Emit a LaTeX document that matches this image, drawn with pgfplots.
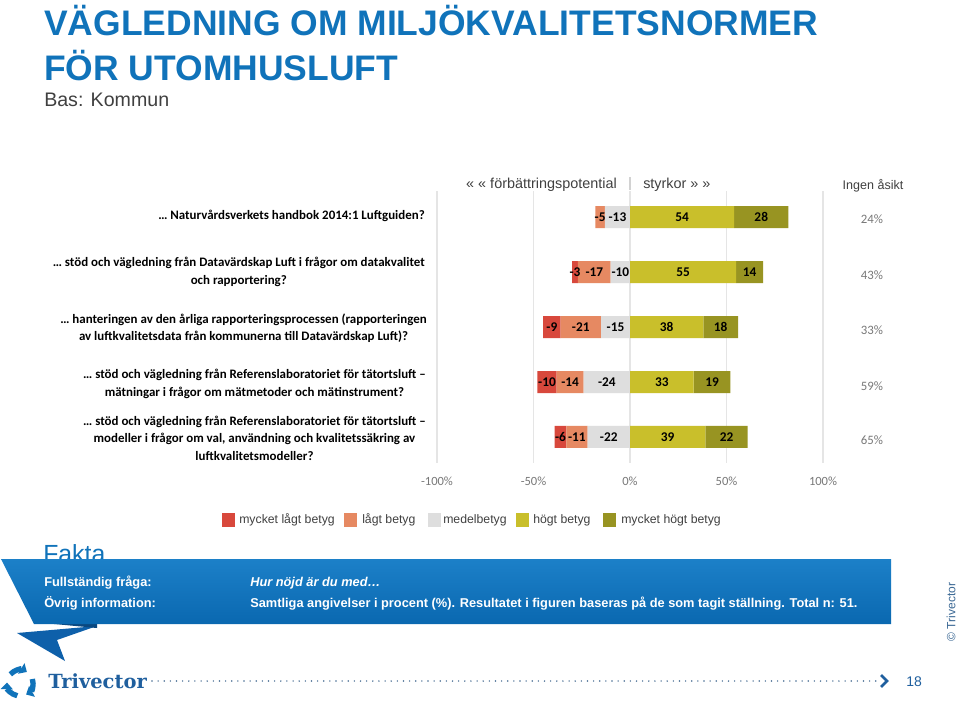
\documentclass[border=0pt]{standalone}
\usepackage{pgfplots}
\pgfplotsset{compat=1.18}
\usepackage{pgfplotstable}
\usepackage{fontspec}
\setmainfont{Liberation Sans}
\newfontfamily\carlito{Carlito}
\newfontfamily\dserif{DejaVu Serif}
\usetikzlibrary{arrows.meta}

\definecolor{cRed}{RGB}{216,72,60}
\definecolor{cSal}{RGB}{230,137,98}
\definecolor{cGray}{RGB}{222,222,222}
\definecolor{cYel}{RGB}{201,191,43}
\definecolor{cOli}{RGB}{152,148,34}
\definecolor{tBlue}{RGB}{16,115,186}
\definecolor{bTop}{RGB}{28,128,200}
\definecolor{bBot}{RGB}{10,104,176}
\definecolor{bDark}{RGB}{14,96,170}
\definecolor{lBlue}{RGB}{31,95,158}
\definecolor{txtGray}{RGB}{64,64,64}
\definecolor{tickGray}{RGB}{120,120,120}

\pgfplotstableread{
r medel lagt mlagt hogt mhogt
1 -13 -5 0 54 28
2 -10 -17 -3 55 14
3 -15 -21 -9 38 18
4 -24 -14 -10 33 19
5 -22 -11 -6 39 22
}\data

\pgfplotsset{
  dbase/.style={scale only axis, width=289.5pt, height=204pt,
    xmin=-100, xmax=100, ymin=0.527, ymax=5.473, y dir=reverse,
    xbar stacked, bar width=16.5pt, clip=false,
    at={(axSW)}, anchor=south west},
  lab/.style={point meta=explicit,
    nodes near coords={\pgfmathfloatifflags{\pgfplotspointmeta}{0}{}{\pgfmathprintnumber[assume math mode=true]{\pgfplotspointmeta}}},
    every node near coord/.append style={font=\carlito\bfseries\fontsize{10}{12}\selectfont,
      text=black, anchor=center, inner sep=0pt}},
}

\begin{document}
\begin{tikzpicture}[x=0.75pt,y=-0.75pt]
\path[use as bounding box, fill=white] (0,0) rectangle (959,703);
\coordinate (axSW) at (437,463);

% Titles
\node[anchor=base west, inner sep=0pt, text=tBlue, font=\bfseries\fontsize{26.6}{30}\selectfont] at (44,36) {VÄGLEDNING OM MILJÖKVALITETSNORMER};
\node[anchor=base west, inner sep=0pt, text=tBlue, font=\bfseries\fontsize{26.6}{30}\selectfont] at (44,80) {FÖR UTOMHUSLUFT};
\node[anchor=base west, inner sep=0pt, text=txtGray, font=\fontsize{14.7}{17}\selectfont] at (44,106) {Bas: Kommun};

% header
\node[anchor=base east, inner sep=0pt, text=txtGray, font=\fontsize{10.8}{12}\selectfont] at (617,188) {« « förbättringspotential};
\node[anchor=base west, inner sep=0pt, text=txtGray, font=\fontsize{10.8}{12}\selectfont] at (643,188) {styrkor » »};
\draw[gray!35, line width=1.5pt] (630,177) -- (630,190);
\node[anchor=base, inner sep=0pt, text=txtGray, font=\fontsize{9.4}{11}\selectfont] at (873,189) {Ingen åsikt};

% negative side
\begin{axis}[dbase,
  axis line style={draw=none},
  xmajorgrids, grid style={gray!20, line width=0.9pt},
  xtick={-100,-50,0,50,100},
  xticklabels={-100\%,-50\%,0\%,50\%,100\%},
  ytick=\empty, major tick length=0pt,
  xticklabel style={font=\carlito\fontsize{9.4}{11}\selectfont, text=tickGray, yshift=-7pt},
]
\addplot[draw=none, fill=cGray, lab] table[x=medel, y=r, meta=medel] {\data};
\addplot[draw=none, fill=cSal, lab] table[x=lagt, y=r, meta=lagt] {\data};
\addplot[draw=none, fill=cRed, lab] table[x=mlagt, y=r, meta=mlagt] {\data};
\end{axis}
% positive side
\begin{axis}[dbase, hide axis]
\addplot[draw=none, fill=cYel, lab] table[x=hogt, y=r, meta=hogt] {\data};
\addplot[draw=none, fill=cOli, lab] table[x=mhogt, y=r, meta=mhogt] {\data};
\end{axis}

% category labels
\tikzset{cat/.style={anchor=east, align=center, inner sep=0pt, font=\carlito\bfseries\fontsize{9.7}{13.1}\selectfont}}
\node[cat] at (425,216) {… Naturvårdsverkets handbok 2014:1 Luftguiden?};
\node[cat] at (425,272) {… stöd och vägledning från Datavärdskap Luft i frågor om datakvalitet\\och rapportering?};
\node[cat] at (427,328) {… hanteringen av den årliga rapporteringsprocessen (rapporteringen\\av luftkvalitetsdata från kommunerna till Datavärdskap Luft)?};
\node[cat] at (426,384) {… stöd och vägledning från Referenslaboratoriet för tätortsluft –\\mätningar i frågor om mätmetoder och mätinstrument?};
\node[cat] at (426,438) {… stöd och vägledning från Referenslaboratoriet för tätortsluft –\\modeller i frågor om val, användning och kvalitetssäkring av\\luftkvalitetsmodeller?};

% Ingen åsikt values
\tikzset{pct/.style={anchor=center, inner sep=0pt, text=tickGray, font=\carlito\fontsize{9.6}{11}\selectfont}}
\node[pct] at (872,219) {24\%};
\node[pct] at (872,275) {43\%};
\node[pct] at (872,330) {33\%};
\node[pct] at (872,386) {59\%};
\node[pct] at (872,440) {65\%};

% legend
\tikzset{lg/.style={anchor=west, inner sep=0pt, text=txtGray, font=\fontsize{9.2}{11}\selectfont}}
\fill[cRed] (222,513) rectangle (235,527); \node[lg] at (239,520) {mycket lågt betyg};
\fill[cSal] (344,513) rectangle (357,527); \node[lg] at (362,520) {lågt betyg};
\fill[cGray] (428,513) rectangle (441,527); \node[lg] at (443,520) {medelbetyg};
\fill[cYel] (516,513) rectangle (529,527); \node[lg] at (533,520) {högt betyg};
\fill[cOli] (603,513) rectangle (616,527); \node[lg] at (621,520) {mycket högt betyg};

% Fakta
\node[anchor=base west, inner sep=0pt, text=tBlue, font=\fontsize{18.6}{22}\selectfont] at (43,562) {Fakta};
\fill[bDark] (17,633) -- (97,626) -- (57,640) -- (65,661) -- cycle;
\fill[bDark!75!black] (33,622) -- (97,622) -- (97,628) -- cycle;
\shade[top color=bTop, bottom color=bBot] (1,559) -- (891,559) -- (891,624) -- (34,624) -- cycle;
\tikzset{bt/.style={anchor=base west, inner sep=0pt, text=white, font=\bfseries\fontsize{9.6}{12}\selectfont}}
\node[bt] at (44,586) {Fullständig fråga:};
\node[bt] at (44,607) {Övrig information:};
\node[bt, font=\bfseries\itshape\fontsize{9.6}{12}\selectfont] at (250,586) {Hur nöjd är du med…};
\node[bt] at (250,607) {Samtliga angivelser i procent (\%). Resultatet i figuren baseras på de som tagit ställning. Total n: 51.};

% copyright
\node[rotate=90, inner sep=0pt, text=lBlue!70!gray, font=\fontsize{9}{11}\selectfont] at (951,612) {© Trivector};

% footer logo
\foreach \a in {90,210,330}{
  \draw[tBlue, line width=4pt, -{Triangle[length=5pt,width=9pt]}]
    (20,683) ++(\a+12:13) arc[start angle=\a+12, end angle=\a+92, radius=13];
}
\node[anchor=base west, inner sep=0pt, text=lBlue, font=\dserif\bfseries\fontsize{14.6}{18}\selectfont] at (48,688) {Trivector};
\draw[lBlue!60!gray, line width=1.2pt, line cap=round, dash pattern=on 0pt off 4.6pt] (152,681) -- (878,681);
\draw[lBlue, line width=2pt] (881,675) -- (887,681) -- (881,687);
\node[anchor=west, inner sep=0pt, text=lBlue, font=\fontsize{10.5}{12}\selectfont] at (906,682) {18};
\end{tikzpicture}
\end{document}
